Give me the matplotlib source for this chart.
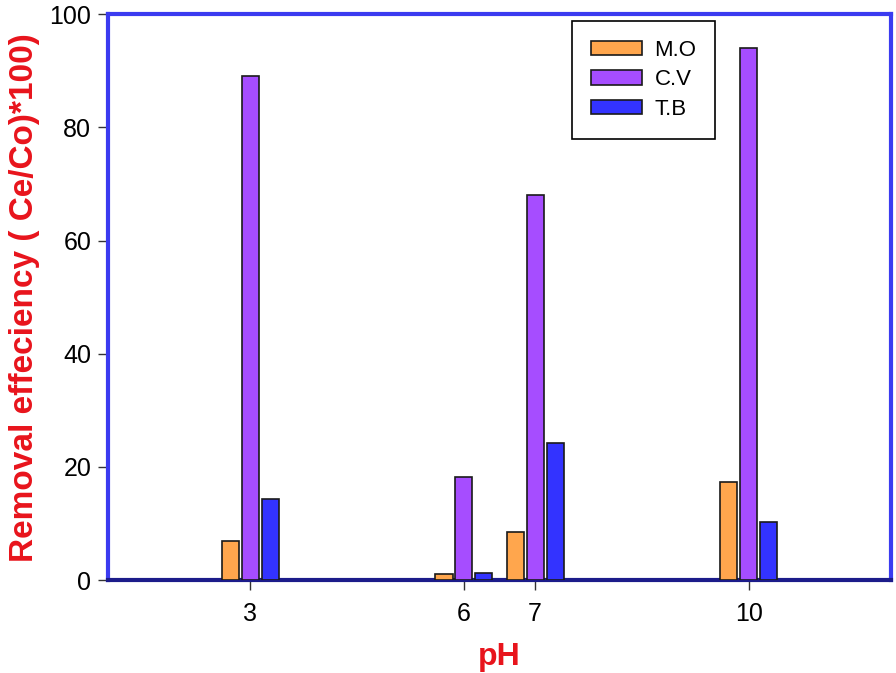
import matplotlib.pyplot as plt
import numpy as np

plt.rcParams['font.family'] = ['Liberation Sans', 'DejaVu Sans']

ph = [3, 6, 7, 10]
mo = [7.0, 1.0, 8.5, 17.3]
cv = [89.0, 18.2, 68.0, 94.0]
tb = [14.3, 1.2, 24.3, 10.2]
labels = ['M.O', 'C.V', 'T.B']
colors = ['#ffa64d', '#a64dff', '#3333ff']

fig = plt.figure(figsize=(8.96, 6.73), dpi=100)
ax = fig.add_axes([0.1205, 0.138, 0.874, 0.841])

x = np.array(ph, dtype=float)
w = 0.24
for off, vals, lab, c in zip([-0.28, 0, 0.28], [mo, cv, tb], labels, colors):
    ax.bar(x + off, vals, w, color=c, edgecolor='#1a1a1a', linewidth=1.2, label=lab, zorder=3)

ax.set_xlim(1, 12)
ax.set_ylim(0, 100)
ax.set_xticks(ph)
ax.set_yticks([0, 20, 40, 60, 80, 100])
ax.tick_params(labelsize=18, length=7, width=1, color='#333333', direction='out', pad=5)
ax.tick_params(axis='x', pad=9)

for s in ['left', 'top', 'right']:
    ax.spines[s].set_color('#3b3bf0')
    ax.spines[s].set_linewidth(3)
ax.spines['bottom'].set_color('#1c1c8a')
ax.spines['bottom'].set_linewidth(3)

ax.set_xlabel('pH', color='#e8141c', fontsize=23, fontweight='bold', labelpad=11)
ax.set_ylabel('Removal effeciency ( Ce/Co)*100)', color='#e8141c', fontsize=24, fontweight='bold', labelpad=7)

leg = ax.legend(loc='upper left', bbox_to_anchor=(0.593, 0.988), borderaxespad=0, fontsize=16,
                fancybox=False, edgecolor='black', framealpha=1, handlelength=2.3, handleheight=0.63,
                handletextpad=0.55, borderpad=0.85, labelspacing=0.38)
leg.get_frame().set_linewidth(1.2)

fig.savefig('out.png', dpi=100)
